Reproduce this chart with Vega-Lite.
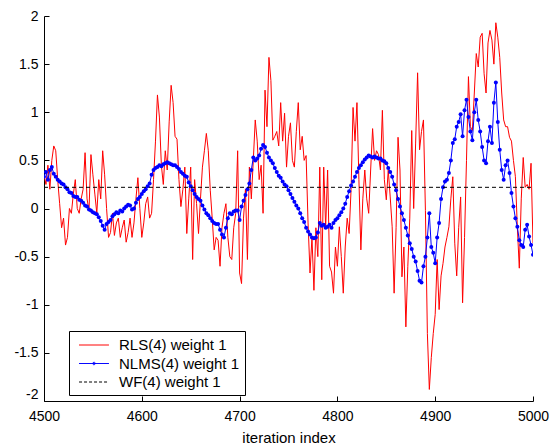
{
  "$schema": "https://vega.github.io/schema/vega-lite/v6.json",
  "width": 489,
  "height": 385,
  "autosize": {"type": "none"},
  "padding": {"left": 44, "top": 16, "right": 19, "bottom": 46},
  "background": "white",
  "config": {
    "view": {"stroke": null},
    "font": "Liberation Sans",
    "axis": {
      "domainColor": "#000000", "tickColor": "#000000", "tickSize": -5, "tickWidth": 1, "domainWidth": 1,
      "labelFont": "Liberation Sans", "labelFontSize": 14, "labelColor": "#000000",
      "titleFont": "Liberation Sans", "titleFontSize": 15, "titleFontWeight": "normal", "titleColor": "#000000",
      "grid": false
    }
  },
  "datasets": {
    "rls": [
      {"i":4500,"v":0.35},{"i":4502,"v":0.25},{"i":4504,"v":0.45},{"i":4506,"v":0.2},{"i":4508,"v":0.5},{"i":4510,"v":0.65},{"i":4512,"v":0.6},{"i":4514,"v":0.3},{"i":4516,"v":0.05},{"i":4518,"v":-0.2},
      {"i":4520,"v":-0.1},{"i":4522,"v":-0.38},{"i":4524,"v":-0.3},{"i":4526,"v":0.0},{"i":4528,"v":-0.05},{"i":4530,"v":0.15},{"i":4532,"v":0.3},{"i":4534,"v":0.0},{"i":4536,"v":-0.05},{"i":4538,"v":0.1},
      {"i":4540,"v":0.2},{"i":4542,"v":0.58},{"i":4544,"v":0.1},{"i":4546,"v":-0.02},{"i":4548,"v":0.56},{"i":4550,"v":0.35},{"i":4552,"v":0.15},{"i":4554,"v":-0.05},{"i":4556,"v":0.3},{"i":4558,"v":0.1},
      {"i":4560,"v":0.6},{"i":4562,"v":0.35},{"i":4564,"v":0.0},{"i":4566,"v":-0.3},{"i":4568,"v":-0.25},{"i":4570,"v":-0.05},{"i":4572,"v":-0.28},{"i":4574,"v":-0.15},{"i":4576,"v":-0.1},{"i":4578,"v":-0.3},
      {"i":4580,"v":-0.2},{"i":4582,"v":-0.12},{"i":4584,"v":-0.35},{"i":4586,"v":-0.25},{"i":4588,"v":-0.1},{"i":4590,"v":-0.3},{"i":4592,"v":-0.15},{"i":4594,"v":0.1},{"i":4596,"v":0.32},{"i":4598,"v":0.0},
      {"i":4600,"v":-0.3},{"i":4602,"v":-0.15},{"i":4604,"v":0.05},{"i":4606,"v":0.12},{"i":4608,"v":-0.1},{"i":4610,"v":-0.05},{"i":4612,"v":0.3},{"i":4614,"v":0.7},{"i":4616,"v":1.18},{"i":4618,"v":0.95},
      {"i":4620,"v":0.45},{"i":4622,"v":0.25},{"i":4624,"v":0.6},{"i":4626,"v":0.4},{"i":4628,"v":0.9},{"i":4630,"v":1.28},{"i":4632,"v":1.1},{"i":4634,"v":0.75},{"i":4636,"v":0.72},{"i":4638,"v":0.3},
      {"i":4640,"v":0.02},{"i":4642,"v":0.2},{"i":4644,"v":0.43},{"i":4646,"v":-0.26},{"i":4648,"v":0.1},{"i":4650,"v":0.43},{"i":4652,"v":-0.53},{"i":4654,"v":0.3},{"i":4656,"v":0.05},{"i":4658,"v":-0.26},
      {"i":4660,"v":0.1},{"i":4662,"v":0.43},{"i":4664,"v":0.6},{"i":4666,"v":0.78},{"i":4668,"v":0.6},{"i":4670,"v":0.19},{"i":4672,"v":-0.1},{"i":4674,"v":-0.43},{"i":4676,"v":-0.3},{"i":4678,"v":-0.33},
      {"i":4680,"v":-0.6},{"i":4682,"v":-0.2},{"i":4684,"v":-0.05},{"i":4686,"v":0.05},{"i":4688,"v":-0.3},{"i":4690,"v":-0.5},{"i":4692,"v":-0.53},{"i":4694,"v":-0.2},{"i":4696,"v":-0.05},{"i":4698,"v":0.6},
      {"i":4700,"v":-0.67},{"i":4702,"v":-0.78},{"i":4704,"v":-0.1},{"i":4706,"v":0.2},{"i":4708,"v":-0.53},{"i":4710,"v":0.43},{"i":4712,"v":0.1},{"i":4714,"v":0.5},{"i":4716,"v":0.92},{"i":4718,"v":0.7},
      {"i":4720,"v":0.3},{"i":4722,"v":0.45},{"i":4724,"v":-0.05},{"i":4726,"v":1.23},{"i":4728,"v":0.85},{"i":4730,"v":1.57},{"i":4732,"v":1.33},{"i":4734,"v":0.71},{"i":4736,"v":0.75},{"i":4738,"v":0.8},
      {"i":4740,"v":0.65},{"i":4742,"v":1.1},{"i":4744,"v":0.7},{"i":4746,"v":0.99},{"i":4748,"v":0.43},{"i":4750,"v":0.75},{"i":4752,"v":0.89},{"i":4754,"v":0.5},{"i":4756,"v":0.43},{"i":4758,"v":0.8},
      {"i":4760,"v":1.1},{"i":4762,"v":0.61},{"i":4764,"v":0.75},{"i":4766,"v":0.5},{"i":4768,"v":0.55},{"i":4770,"v":-0.15},{"i":4772,"v":-0.67},{"i":4774,"v":-0.3},{"i":4776,"v":-0.85},{"i":4778,"v":-0.2},
      {"i":4780,"v":-0.5},{"i":4782,"v":0.43},{"i":4784,"v":-0.74},{"i":4786,"v":0.43},{"i":4788,"v":-0.2},{"i":4790,"v":0.4},{"i":4792,"v":-0.6},{"i":4794,"v":-0.66},{"i":4796,"v":-0.88},{"i":4798,"v":-0.4},
      {"i":4800,"v":-0.6},{"i":4802,"v":-0.19},{"i":4804,"v":-0.5},{"i":4806,"v":-0.88},{"i":4808,"v":-0.4},{"i":4810,"v":-0.1},{"i":4812,"v":-0.26},{"i":4814,"v":0.2},{"i":4816,"v":1.05},{"i":4818,"v":0.7},
      {"i":4820,"v":1.1},{"i":4822,"v":0.3},{"i":4824,"v":-0.43},{"i":4826,"v":0.1},{"i":4828,"v":0.4},{"i":4830,"v":0.1},{"i":4832,"v":-0.05},{"i":4834,"v":0.4},{"i":4836,"v":0.83},{"i":4838,"v":0.5},
      {"i":4840,"v":0.6},{"i":4842,"v":0.56},{"i":4844,"v":0.4},{"i":4846,"v":1.02},{"i":4848,"v":0.3},{"i":4850,"v":0.09},{"i":4852,"v":0.4},{"i":4854,"v":0.12},{"i":4856,"v":-0.19},{"i":4858,"v":-0.88},
      {"i":4860,"v":-0.2},{"i":4862,"v":0.74},{"i":4864,"v":0.4},{"i":4866,"v":-0.71},{"i":4868,"v":-0.4},{"i":4870,"v":-1.23},{"i":4872,"v":-0.6},{"i":4874,"v":-0.1},{"i":4876,"v":0.81},{"i":4878,"v":0.0},
      {"i":4880,"v":0.68},{"i":4882,"v":1.41},{"i":4884,"v":0.61},{"i":4886,"v":0.8},{"i":4888,"v":0.92},{"i":4890,"v":-0.02},{"i":4892,"v":-1.3},{"i":4894,"v":-1.88},{"i":4896,"v":-1.55},{"i":4898,"v":-1.3},
      {"i":4900,"v":-1.1},{"i":4902,"v":-0.53},{"i":4904,"v":-1.05},{"i":4906,"v":-0.7},{"i":4908,"v":-0.57},{"i":4910,"v":-0.4},{"i":4912,"v":-0.3},{"i":4914,"v":-0.19},{"i":4916,"v":0.1},{"i":4918,"v":0.33},
      {"i":4920,"v":-0.36},{"i":4922,"v":-0.7},{"i":4924,"v":-0.2},{"i":4926,"v":0.12},{"i":4928,"v":-0.98},{"i":4930,"v":-0.3},{"i":4932,"v":0.5},{"i":4934,"v":1.37},{"i":4936,"v":0.85},{"i":4938,"v":0.81},
      {"i":4940,"v":1.2},{"i":4942,"v":1.61},{"i":4944,"v":1.47},{"i":4946,"v":1.78},{"i":4948,"v":1.82},{"i":4950,"v":1.4},{"i":4952,"v":1.2},{"i":4954,"v":1.72},{"i":4956,"v":1.85},{"i":4958,"v":1.75},
      {"i":4960,"v":1.5},{"i":4962,"v":1.93},{"i":4964,"v":1.78},{"i":4966,"v":1.57},{"i":4968,"v":1.2},{"i":4970,"v":0.92},{"i":4972,"v":0.85},{"i":4974,"v":0.85},{"i":4976,"v":0.74},{"i":4978,"v":0.7},
      {"i":4980,"v":0.5},{"i":4982,"v":0.33},{"i":4984,"v":-0.2},{"i":4986,"v":-0.62},{"i":4988,"v":0.1},{"i":4990,"v":0.53},{"i":4992,"v":0.22},{"i":4994,"v":0.25},{"i":4996,"v":0.2},{"i":4998,"v":0.47},
      {"i":5000,"v":-0.36}
    ],
    "nlms": [
      {"i":4500,"v":0.33},{"i":4502,"v":0.38},{"i":4504,"v":0.3},{"i":4506,"v":0.4},{"i":4508,"v":0.43},{"i":4510,"v":0.36},{"i":4512,"v":0.33},{"i":4514,"v":0.3},{"i":4516,"v":0.28},{"i":4518,"v":0.26},
      {"i":4520,"v":0.25},{"i":4522,"v":0.22},{"i":4524,"v":0.2},{"i":4526,"v":0.17},{"i":4528,"v":0.16},{"i":4530,"v":0.13},{"i":4532,"v":0.12},{"i":4534,"v":0.12},{"i":4536,"v":0.09},{"i":4538,"v":0.08},
      {"i":4540,"v":0.06},{"i":4542,"v":0.03},{"i":4544,"v":0.02},{"i":4546,"v":-0.01},{"i":4548,"v":-0.02},{"i":4550,"v":-0.04},{"i":4552,"v":-0.05},{"i":4554,"v":-0.06},{"i":4556,"v":-0.09},{"i":4558,"v":-0.13},
      {"i":4560,"v":-0.18},{"i":4562,"v":-0.22},{"i":4564,"v":-0.16},{"i":4566,"v":-0.14},{"i":4568,"v":-0.12},{"i":4570,"v":-0.08},{"i":4572,"v":-0.06},{"i":4574,"v":-0.04},{"i":4576,"v":-0.05},{"i":4578,"v":-0.02},
      {"i":4580,"v":-0.03},{"i":4582,"v":0.0},{"i":4584,"v":0.02},{"i":4586,"v":0.04},{"i":4588,"v":0.03},{"i":4590,"v":-0.01},{"i":4592,"v":0.0},{"i":4594,"v":0.06},{"i":4596,"v":0.1},{"i":4598,"v":0.12},
      {"i":4600,"v":0.15},{"i":4602,"v":0.18},{"i":4604,"v":0.2},{"i":4606,"v":0.23},{"i":4608,"v":0.26},{"i":4610,"v":0.35},{"i":4612,"v":0.4},{"i":4614,"v":0.42},{"i":4616,"v":0.43},{"i":4618,"v":0.45},
      {"i":4620,"v":0.44},{"i":4622,"v":0.46},{"i":4624,"v":0.47},{"i":4626,"v":0.48},{"i":4628,"v":0.47},{"i":4630,"v":0.46},{"i":4632,"v":0.45},{"i":4634,"v":0.45},{"i":4636,"v":0.43},{"i":4638,"v":0.41},
      {"i":4640,"v":0.38},{"i":4642,"v":0.36},{"i":4644,"v":0.34},{"i":4646,"v":0.33},{"i":4648,"v":0.27},{"i":4650,"v":0.23},{"i":4652,"v":0.19},{"i":4654,"v":0.15},{"i":4656,"v":0.12},{"i":4658,"v":0.1},
      {"i":4660,"v":0.08},{"i":4662,"v":0.03},{"i":4664,"v":-0.01},{"i":4666,"v":-0.05},{"i":4668,"v":-0.07},{"i":4670,"v":-0.1},{"i":4672,"v":-0.13},{"i":4674,"v":-0.15},{"i":4676,"v":-0.16},{"i":4678,"v":-0.16},
      {"i":4680,"v":-0.22},{"i":4682,"v":-0.27},{"i":4684,"v":-0.3},{"i":4686,"v":-0.2},{"i":4688,"v":-0.1},{"i":4690,"v":-0.05},{"i":4692,"v":-0.06},{"i":4694,"v":-0.03},{"i":4696,"v":-0.02},{"i":4698,"v":-0.02},
      {"i":4700,"v":-0.12},{"i":4702,"v":0.02},{"i":4704,"v":0.08},{"i":4706,"v":0.14},{"i":4708,"v":0.2},{"i":4710,"v":0.26},{"i":4712,"v":0.4},{"i":4714,"v":0.53},{"i":4716,"v":0.5},{"i":4718,"v":0.52},
      {"i":4720,"v":0.55},{"i":4722,"v":0.62},{"i":4724,"v":0.66},{"i":4726,"v":0.64},{"i":4728,"v":0.58},{"i":4730,"v":0.53},{"i":4732,"v":0.5},{"i":4734,"v":0.47},{"i":4736,"v":0.42},{"i":4738,"v":0.38},
      {"i":4740,"v":0.34},{"i":4742,"v":0.32},{"i":4744,"v":0.28},{"i":4746,"v":0.25},{"i":4748,"v":0.23},{"i":4750,"v":0.19},{"i":4752,"v":0.15},{"i":4754,"v":0.11},{"i":4756,"v":0.07},{"i":4758,"v":0.03},
      {"i":4760,"v":0.0},{"i":4762,"v":-0.05},{"i":4764,"v":-0.1},{"i":4766,"v":-0.14},{"i":4768,"v":-0.2},{"i":4770,"v":-0.24},{"i":4772,"v":-0.27},{"i":4774,"v":-0.3},{"i":4776,"v":-0.31},{"i":4778,"v":-0.3},
      {"i":4780,"v":-0.25},{"i":4782,"v":-0.15},{"i":4784,"v":-0.18},{"i":4786,"v":-0.17},{"i":4788,"v":-0.2},{"i":4790,"v":-0.19},{"i":4792,"v":-0.17},{"i":4794,"v":-0.2},{"i":4796,"v":-0.15},{"i":4798,"v":-0.12},
      {"i":4800,"v":-0.1},{"i":4802,"v":-0.07},{"i":4804,"v":-0.04},{"i":4806,"v":0.0},{"i":4808,"v":0.05},{"i":4810,"v":0.12},{"i":4812,"v":0.18},{"i":4814,"v":0.24},{"i":4816,"v":0.28},{"i":4818,"v":0.33},
      {"i":4820,"v":0.38},{"i":4822,"v":0.42},{"i":4824,"v":0.45},{"i":4826,"v":0.48},{"i":4828,"v":0.51},{"i":4830,"v":0.53},{"i":4832,"v":0.55},{"i":4834,"v":0.54},{"i":4836,"v":0.53},{"i":4838,"v":0.54},
      {"i":4840,"v":0.53},{"i":4842,"v":0.52},{"i":4844,"v":0.52},{"i":4846,"v":0.5},{"i":4848,"v":0.49},{"i":4850,"v":0.47},{"i":4852,"v":0.42},{"i":4854,"v":0.38},{"i":4856,"v":0.33},{"i":4858,"v":0.25},
      {"i":4860,"v":0.19},{"i":4862,"v":0.1},{"i":4864,"v":0.02},{"i":4866,"v":-0.05},{"i":4868,"v":-0.12},{"i":4870,"v":-0.2},{"i":4872,"v":-0.28},{"i":4874,"v":-0.36},{"i":4876,"v":-0.42},{"i":4878,"v":-0.5},
      {"i":4880,"v":-0.55},{"i":4882,"v":-0.65},{"i":4884,"v":-0.75},{"i":4886,"v":-0.77},{"i":4888,"v":-0.6},{"i":4890,"v":-0.5},{"i":4892,"v":-0.3},{"i":4894,"v":-0.05},{"i":4896,"v":-0.4},{"i":4898,"v":-0.46},
      {"i":4900,"v":-0.57},{"i":4902,"v":-0.3},{"i":4904,"v":-0.15},{"i":4906,"v":0.1},{"i":4908,"v":0.22},{"i":4910,"v":0.28},{"i":4912,"v":0.3},{"i":4914,"v":0.37},{"i":4916,"v":0.5},{"i":4918,"v":0.68},
      {"i":4920,"v":0.72},{"i":4922,"v":0.85},{"i":4924,"v":0.9},{"i":4926,"v":0.98},{"i":4928,"v":0.75},{"i":4930,"v":1.02},{"i":4932,"v":1.13},{"i":4934,"v":0.95},{"i":4936,"v":0.8},{"i":4938,"v":0.71},
      {"i":4940,"v":1.0},{"i":4942,"v":1.13},{"i":4944,"v":0.92},{"i":4946,"v":0.8},{"i":4948,"v":0.64},{"i":4950,"v":0.5},{"i":4952,"v":0.47},{"i":4954,"v":0.7},{"i":4956,"v":0.85},{"i":4958,"v":0.68},
      {"i":4960,"v":1.1},{"i":4962,"v":1.31},{"i":4964,"v":0.9},{"i":4966,"v":0.61},{"i":4968,"v":0.4},{"i":4970,"v":0.3},{"i":4972,"v":0.45},{"i":4974,"v":0.5},{"i":4976,"v":0.37},{"i":4978,"v":0.16},
      {"i":4980,"v":0.02},{"i":4982,"v":-0.1},{"i":4984,"v":-0.19},{"i":4986,"v":-0.33},{"i":4988,"v":-0.38},{"i":4990,"v":-0.4},{"i":4992,"v":-0.22},{"i":4994,"v":-0.17},{"i":4996,"v":-0.29},{"i":4998,"v":-0.38},
      {"i":5000,"v":-0.48}
    ],
    "wf": [{"i":4500,"v":0.22},{"i":5000,"v":0.22}]
  },
  "layer": [
    {
      "data": {"name": "rls"},
      "mark": {"type": "line", "strokeWidth": 1, "clip": true},
      "encoding": {
        "x": {"field": "i", "type": "quantitative", "scale": {"domain": [4500, 5000], "nice": false, "zero": false},
              "axis": {"values": [4500, 4600, 4700, 4800, 4900, 5000], "format": "d", "title": "iteration index", "labelPadding": 13, "titlePadding": 7, "labelFlush": false}},
        "y": {"field": "v", "type": "quantitative", "scale": {"domain": [-2, 2], "nice": false, "zero": false},
              "axis": {"values": [-2, -1.5, -1, -0.5, 0, 0.5, 1, 1.5, 2], "labelExpr": "'' + datum.value", "title": null, "labelPadding": 11,
                       "labelBaseline": {"condition": {"test": "datum.value == -2", "value": "bottom"}, "value": "middle"}}},
        "color": {"datum": "RLS(4) weight 1", "type": "nominal",
                  "scale": {"domain": ["RLS(4) weight 1", "NLMS(4) weight 1", "WF(4) weight 1"], "range": ["#ff0000", "#0000ff", "#000000"]},
                  "legend": {
                    "title": null, "orient": "none", "legendX": 25, "legendY": 315,
                    "strokeColor": "#000000", "fillColor": "#ffffff", "padding": 5,
                    "labelFont": "Liberation Sans", "labelFontSize": 15, "labelColor": "#000000", "labelOffset": 16, "labelLimit": 300,
                    "labelExpr": "datum.label + '\u00a0\u00a0\u00a0'",
                    "symbolSize": 289, "symbolStrokeWidth": 1, "symbolOffset": 11, "symbolType": "stroke", "rowPadding": 1.5,
                    "encode": {"symbols": {"update": {
                      "strokeDash": {"signal": "datum.value == 'WF(4) weight 1' ? [3, 2] : [1, 0]"},
                      "shape": {"signal": "datum.value == 'NLMS(4) weight 1' ? 'M-1.76,0L1.76,0M-0.15,0A0.15,0.15,0,1,1,0.15,0A0.15,0.15,0,1,1,-0.15,0' : 'M-1.76,0L1.76,0'"},
                      "fill": {"value": "transparent"}
                    }}}
                  }}
      }
    },
    {
      "data": {"name": "nlms"},
      "mark": {"type": "line", "strokeWidth": 1, "clip": true},
      "encoding": {
        "x": {"field": "i", "type": "quantitative"},
        "y": {"field": "v", "type": "quantitative"},
        "color": {"datum": "NLMS(4) weight 1", "type": "nominal"}
      }
    },
    {
      "data": {"name": "nlms"},
      "mark": {"type": "point", "filled": true, "size": 16, "color": "#0000ff", "opacity": 1, "clip": true},
      "encoding": {
        "x": {"field": "i", "type": "quantitative"},
        "y": {"field": "v", "type": "quantitative"}
      }
    },
    {
      "data": {"name": "wf"},
      "mark": {"type": "line", "strokeWidth": 1, "strokeDash": [4, 3], "clip": true},
      "encoding": {
        "x": {"field": "i", "type": "quantitative"},
        "y": {"field": "v", "type": "quantitative"},
        "color": {"datum": "WF(4) weight 1", "type": "nominal"}
      }
    }
  ]
}
